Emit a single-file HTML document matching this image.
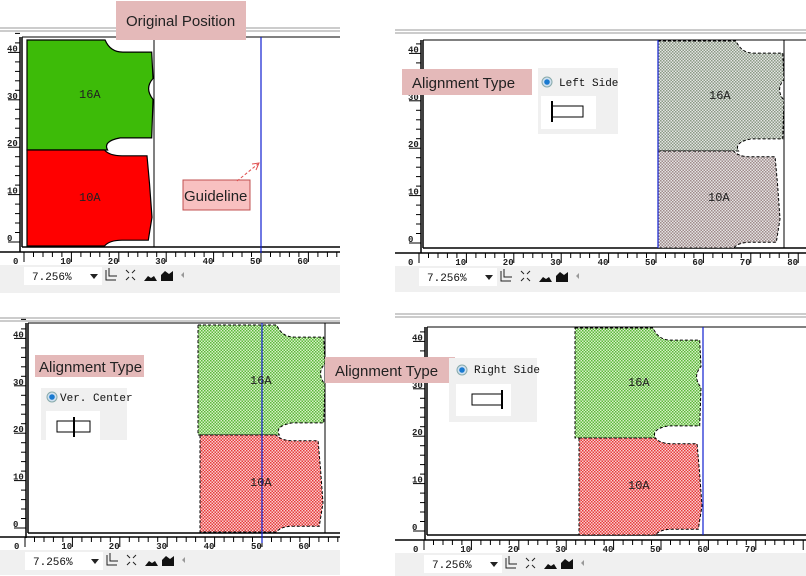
<!DOCTYPE html>
<html><head><meta charset="utf-8"><style>
html,body{margin:0;padding:0;background:#fff;width:806px;height:576px;overflow:hidden}
svg{display:block}
.lab{font-family:"Liberation Sans",sans-serif;font-size:15px;fill:#222}
.pc{font-family:"Liberation Mono",monospace;font-size:12px;fill:#222}
.tk{font-family:"Liberation Mono",monospace;font-size:9px;font-weight:bold;fill:#222}
.rd{font-family:"Liberation Mono",monospace;font-size:11px;fill:#111}
.dd{font-family:"Liberation Mono",monospace;font-size:11px;fill:#111}
</style></head><body>
<svg id="s" width="806" height="576" xmlns="http://www.w3.org/2000/svg">
<defs>
<pattern id="pg" width="3" height="3" patternUnits="userSpaceOnUse"><rect width="3" height="3" fill="#d8f0c8"/><rect width="1.5" height="1.5" fill="#5cb83a"/><rect x="1.5" y="1.5" width="1.5" height="1.5" fill="#5cb83a"/></pattern>
<pattern id="pr" width="3" height="3" patternUnits="userSpaceOnUse"><rect width="3" height="3" fill="#f8d0d0"/><rect width="1.5" height="1.5" fill="#e83a3a"/><rect x="1.5" y="1.5" width="1.5" height="1.5" fill="#e83a3a"/></pattern>
<pattern id="pgg" width="3" height="3" patternUnits="userSpaceOnUse"><rect width="3" height="3" fill="#e4e4e4"/><rect width="1.5" height="1.5" fill="#8a9a84"/><rect x="1.5" y="1.5" width="1.5" height="1.5" fill="#8a9a84"/></pattern>
<pattern id="prg" width="3" height="3" patternUnits="userSpaceOnUse"><rect width="3" height="3" fill="#e4e4e4"/><rect width="1.5" height="1.5" fill="#a08a8a"/><rect x="1.5" y="1.5" width="1.5" height="1.5" fill="#a08a8a"/></pattern>
</defs>
<g id="g"></g>
<rect x="116" y="1" width="130" height="39" fill="#e4b9b9"/>
<text class="lab" x="126" y="26">Original Position</text>
<rect x="183" y="180" width="67" height="30" fill="#f8c0c0" stroke="#c05050"/>
<text class="lab" x="184" y="201" style="font-size:15px">Guideline</text>
<path d="M237 181 L258 164" stroke="#e05050" stroke-dasharray="3,2" fill="none"/>
<path d="M252 164 L259 163 L256 170" stroke="#e05050" fill="none"/>
<text class="pc" x="79" y="98">16A</text><text class="pc" x="79" y="201">10A</text>
<text class="pc" x="709" y="99">16A</text><text class="pc" x="708" y="201">10A</text>
<text class="pc" x="250" y="384">16A</text><text class="pc" x="250" y="486">10A</text>
<text class="pc" x="628" y="386">16A</text><text class="pc" x="628" y="489">10A</text>

<rect x="402" y="69" width="130" height="26" fill="#e4b9b9"/><text class="lab" x="412" y="88">Alignment Type</text>
<rect x="538" y="68" width="80" height="66" fill="#f0f0f0"/><rect x="541" y="96" width="55" height="33" fill="#fff"/>
<circle cx="547" cy="82" r="5" fill="#cfe0f0" stroke="#8aa"/><circle cx="547" cy="82" r="2.8" fill="#1a7ad0"/>
<text class="rd" x="559" y="86">Left Side</text>
<rect x="552" y="106" width="31" height="11" fill="#fff" stroke="#000"/><line x1="552" y1="101" x2="552" y2="122" stroke="#000" stroke-width="2"/>

<rect x="35" y="355" width="109" height="22" fill="#e4b9b9"/><text class="lab" x="39" y="372">Alignment Type</text>
<rect x="41" y="388" width="86" height="52" fill="#f0f0f0"/><rect x="46" y="411" width="54" height="29" fill="#fff"/>
<circle cx="52" cy="397" r="5" fill="#cfe0f0" stroke="#8aa"/><circle cx="52" cy="397" r="2.8" fill="#1a7ad0"/>
<text class="rd" x="60" y="401">Ver. Center</text>
<rect x="57" y="421" width="33" height="11" fill="#fff" stroke="#000"/><line x1="74" y1="417" x2="74" y2="437" stroke="#000" stroke-width="2"/>

<rect x="325" y="357" width="130" height="26" fill="#e4b9b9"/><text class="lab" x="335" y="376">Alignment Type</text>
<rect x="449" y="358" width="88" height="64" fill="#f0f0f0"/><rect x="456" y="384" width="55" height="32" fill="#fff"/>
<circle cx="462" cy="370" r="5" fill="#cfe0f0" stroke="#8aa"/><circle cx="462" cy="370" r="2.8" fill="#1a7ad0"/>
<text class="rd" x="474" y="373">Right Side</text>
<rect x="472" y="394" width="30" height="11" fill="#fff" stroke="#000"/><line x1="502" y1="390" x2="502" y2="409" stroke="#000" stroke-width="2"/>
</svg>
<script>
var gEl=document.getElementById('g'),h='';
function topP(x0,y0,w,hh){var X=function(u){return (x0+u*w).toFixed(1)},Y=function(v){return (y0+v*hh).toFixed(1)};
return 'M'+X(0)+' '+Y(0)+'L'+X(.62)+' '+Y(0)+'Q'+X(.66)+' '+Y(.11)+' '+X(.76)+' '+Y(.11)+'L'+X(.99)+' '+Y(.11)+'L'+X(1)+' '+Y(.35)+'Q'+X(.93)+' '+Y(.44)+' '+X(1)+' '+Y(.54)+'L'+X(.99)+' '+Y(.89)+'L'+X(.74)+' '+Y(.89)+'Q'+X(.6)+' '+Y(.92)+' '+X(.64)+' '+Y(1)+'L'+X(0)+' '+Y(1)+'Z';}
function botP(x0,y0,w,hh){var X=function(u){return (x0+u*w).toFixed(1)},Y=function(v){return (y0+v*hh).toFixed(1)};
return 'M'+X(0)+' '+Y(0)+'L'+X(.62)+' '+Y(0)+'Q'+X(.66)+' '+Y(.06)+' '+X(.76)+' '+Y(.06)+'L'+X(.96)+' '+Y(.06)+'L'+X(.98)+' '+Y(.35)+'L'+X(1)+' '+Y(.7)+'L'+X(.97)+' '+Y(.94)+'L'+X(.76)+' '+Y(.94)+'Q'+X(.66)+' '+Y(.94)+' '+X(.62)+' '+Y(1)+'L'+X(0)+' '+Y(1)+'Z';}
function panel(p){
 var s=4.74;
 h+='<line x1="'+p.a+'" y1="'+p.sep+'" x2="'+p.b+'" y2="'+p.sep+'" stroke="#999"/><line x1="'+p.a+'" y1="'+(p.sep+3)+'" x2="'+p.b+'" y2="'+(p.sep+3)+'" stroke="#999"/>';
 h+='<rect x="'+p.a+'" y="'+(p.tb)+'" width="'+(p.b-p.a)+'" height="'+(p.tbh)+'" fill="#f0f0f0"/>';
 h+='<rect x="'+(p.ox)+'" y="'+(p.tb+2)+'" width="78" height="18" fill="#fff"/><text class="dd" x="'+(p.ox+8)+'" y="'+(p.tb+15)+'">7.256%</text><path d="M'+(p.ox+66)+' '+(p.tb+9)+'l8 0l-4 5z" fill="#222"/>';
 var tx=p.ox+82;
 h+='<path d="M'+tx+' '+(p.tb+5)+'v10h10M'+(tx+3)+' '+(p.tb+3)+'v8h8" stroke="#222" fill="none"/>';
 h+='<path d="M'+(tx+20)+' '+(p.tb+5)+'l3 3M'+(tx+29)+' '+(p.tb+5)+'l-3 3M'+(tx+20)+' '+(p.tb+15)+'l3-3M'+(tx+29)+' '+(p.tb+15)+'l-3-3" stroke="#222"/>';
 h+='<path d="M'+(tx+38)+' '+(p.tb+16)+'l4-5l3 2l3-2l3 5z" fill="#111"/><path d="M'+(tx+55)+' '+(p.tb+16)+'v-6l4-4l4 3l4-3v10z" fill="#111"/>';
 h+='<path d="M'+(tx+75)+' '+(p.tb+10)+'l3-3v6z" fill="#999"/>';
 h+='<line x1="'+p.x0+'" y1="'+p.t+'" x2="'+p.x0+'" y2="'+p.bt+'" stroke="#000" stroke-width="1.5"/>';
 h+='<line x1="'+p.x0+'" y1="'+p.t+'" x2="'+p.b+'" y2="'+p.t+'" stroke="#000"/><line x1="'+p.x0+'" y1="'+p.bt+'" x2="'+p.b+'" y2="'+p.bt+'" stroke="#000" stroke-width="1.5"/>';
 if(p.rb) h+='<line x1="'+p.rb+'" y1="'+p.t+'" x2="'+p.rb+'" y2="'+p.bt+'" stroke="#000"/>';
 h+='<line x1="'+p.a+'" y1="'+p.ry+'" x2="'+p.b+'" y2="'+p.ry+'" stroke="#000" stroke-width="1.5"/>';
 for(var u=0;u<=90;u+=2){var x=p.ox+u*s;if(x>p.b)break;var L=u%10==0?10:5;
  h+='<line x1="'+x.toFixed(1)+'" y1="'+p.ry+'" x2="'+x.toFixed(1)+'" y2="'+(p.ry+L)+'" stroke="#000"/>';
  if(u%10==0&&x<p.b-6)h+='<text class="tk" x="'+(x-11).toFixed(1)+'" y="'+(p.ry+12)+'">'+u+'</text>';}
 h+='<line x1="'+(p.x0-2)+'" y1="'+p.t+'" x2="'+(p.x0-2)+'" y2="'+(p.bt+5)+'" stroke="#000" stroke-width="1.5"/>';
 for(var v=0;v<=44;v+=2){var y=p.oy-v*s;if(y<p.t-4)break;var L2=v%10==0?12:5;
  h+='<line x1="'+(p.x0-2-L2)+'" y1="'+y.toFixed(1)+'" x2="'+(p.x0-2)+'" y2="'+y.toFixed(1)+'" stroke="#000"/>';
  if(v%10==0)h+='<text class="tk" x="'+(p.x0-15)+'" y="'+(y-1).toFixed(1)+'">'+v+'</text>';}
 var st=p.dash?'stroke-dasharray="3,2"':'stroke-width="1.2"';
 h+='<path d="'+topP(p.gx,p.gy,p.gw,p.gh)+'" fill="'+p.gf+'" stroke="#000" '+st+'/>';
 h+='<path d="'+botP(p.rx,p.gy+p.gh,p.rw,p.rh)+'" fill="'+p.rf+'" stroke="#000" '+st+'/>';
 if(p.bl) h+='<line x1="'+p.bl+'" y1="'+p.t+'" x2="'+p.bl+'" y2="'+p.blb+'" stroke="#1020d0" stroke-width="1.2"/>';
}
panel({a:0,b:340,sep:28,tb:265,tbh:28,ox:24,x0:22,t:37,bt:247,rb:154,ry:252,oy:242,gx:27,gy:40,gw:126,gh:110,rx:27,rw:125,rh:96,gf:'#3dbb08',rf:'#ff0000',dash:false,bl:261,blb:253});
panel({a:395,b:806,sep:30,tb:266,tbh:26,ox:419,x0:423,t:40,bt:248,rb:784,ry:253,oy:243,gx:658,gy:41,gw:126,gh:110,rx:658,rw:122,rh:97,gf:'url(#pgg)',rf:'url(#prg)',dash:true,bl:658,blb:248});
panel({a:0,b:340,sep:318,tb:550,tbh:25,ox:25,x0:28,t:323,bt:533,rb:325,ry:537,oy:528,gx:198,gy:325,gw:127,gh:110,rx:200,rw:123,rh:97,gf:'url(#pg)',rf:'url(#pr)',dash:true,bl:262,blb:543});
panel({a:395,b:806,sep:314,tb:553,tbh:23,ox:424,x0:427,t:327,bt:535,rb:703,ry:540,oy:531,gx:575,gy:328,gw:126,gh:110,rx:579,rw:123,rh:97,gf:'url(#pg)',rf:'url(#pr)',dash:true,bl:703,blb:535});
gEl.innerHTML=h;
</script>
</body></html>
